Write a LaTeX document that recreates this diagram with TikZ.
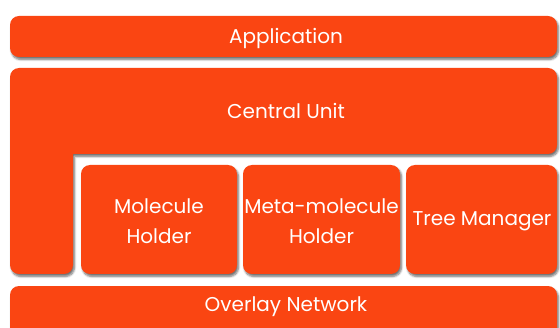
\documentclass[tikz,border=0pt]{standalone}
\usepackage{fontspec}
\setmainfont{Poppins}
\usetikzlibrary{shadows.blur}
\definecolor{boxorange}{RGB}{250,69,18}
\tikzset{
  block/.style={fill=boxorange, rounded corners=9pt, blur shadow={shadow xshift=1.5pt, shadow yshift=-2.5pt, shadow blur steps=6, shadow opacity=55, shadow blur radius=2pt}},
  lbl/.style={text=white, font=\fontsize{20}{30}\selectfont, align=center, inner sep=0pt}
}
\begin{document}
\begin{tikzpicture}[x=1pt,y=1pt]
\useasboundingbox (0,0) rectangle (560,327);
% Application
\path[block] (10,327-57) rectangle (557,327-16);
\node[lbl] (app) at (286,327-38) {Application};
% Central unit (L shape)
\path[fill=boxorange, blur shadow={shadow xshift=1.5pt, shadow yshift=-2.5pt, shadow blur steps=6, shadow opacity=55, shadow blur radius=2pt}]
  (10,53+9) -- (10,259-9) arc[start angle=180,end angle=90,radius=9]
  -- (557-9,259) arc[start angle=90,end angle=0,radius=9]
  -- (557,173+9) arc[start angle=0,end angle=-90,radius=9]
  -- (73,173) -- (73,53+9) arc[start angle=0,end angle=-90,radius=9]
  -- (10+9,53) arc[start angle=270,end angle=180,radius=9] -- cycle;
\node[lbl] (cu) at (286,327-111) {Central Unit};
% Holders
\path[block] (81,327-274) rectangle (237,327-165);
\node[lbl] (mh) at (159,327-221) {Molecule\\Holder};
\path[block] (243,327-274) rectangle (400,327-165);
\node[lbl] (mmh) at (321.5,327-221) {Meta-molecule\\Holder};
\path[block] (406,327-274) rectangle (557,327-165);
\node[lbl] (tm) at (482,327-221) {Tree Manager};
% Overlay network
\path[block] (10,-12) rectangle (557,327-286);
\node[lbl] (on) at (286,327-307) {Overlay Network};
\end{tikzpicture}
\end{document}
